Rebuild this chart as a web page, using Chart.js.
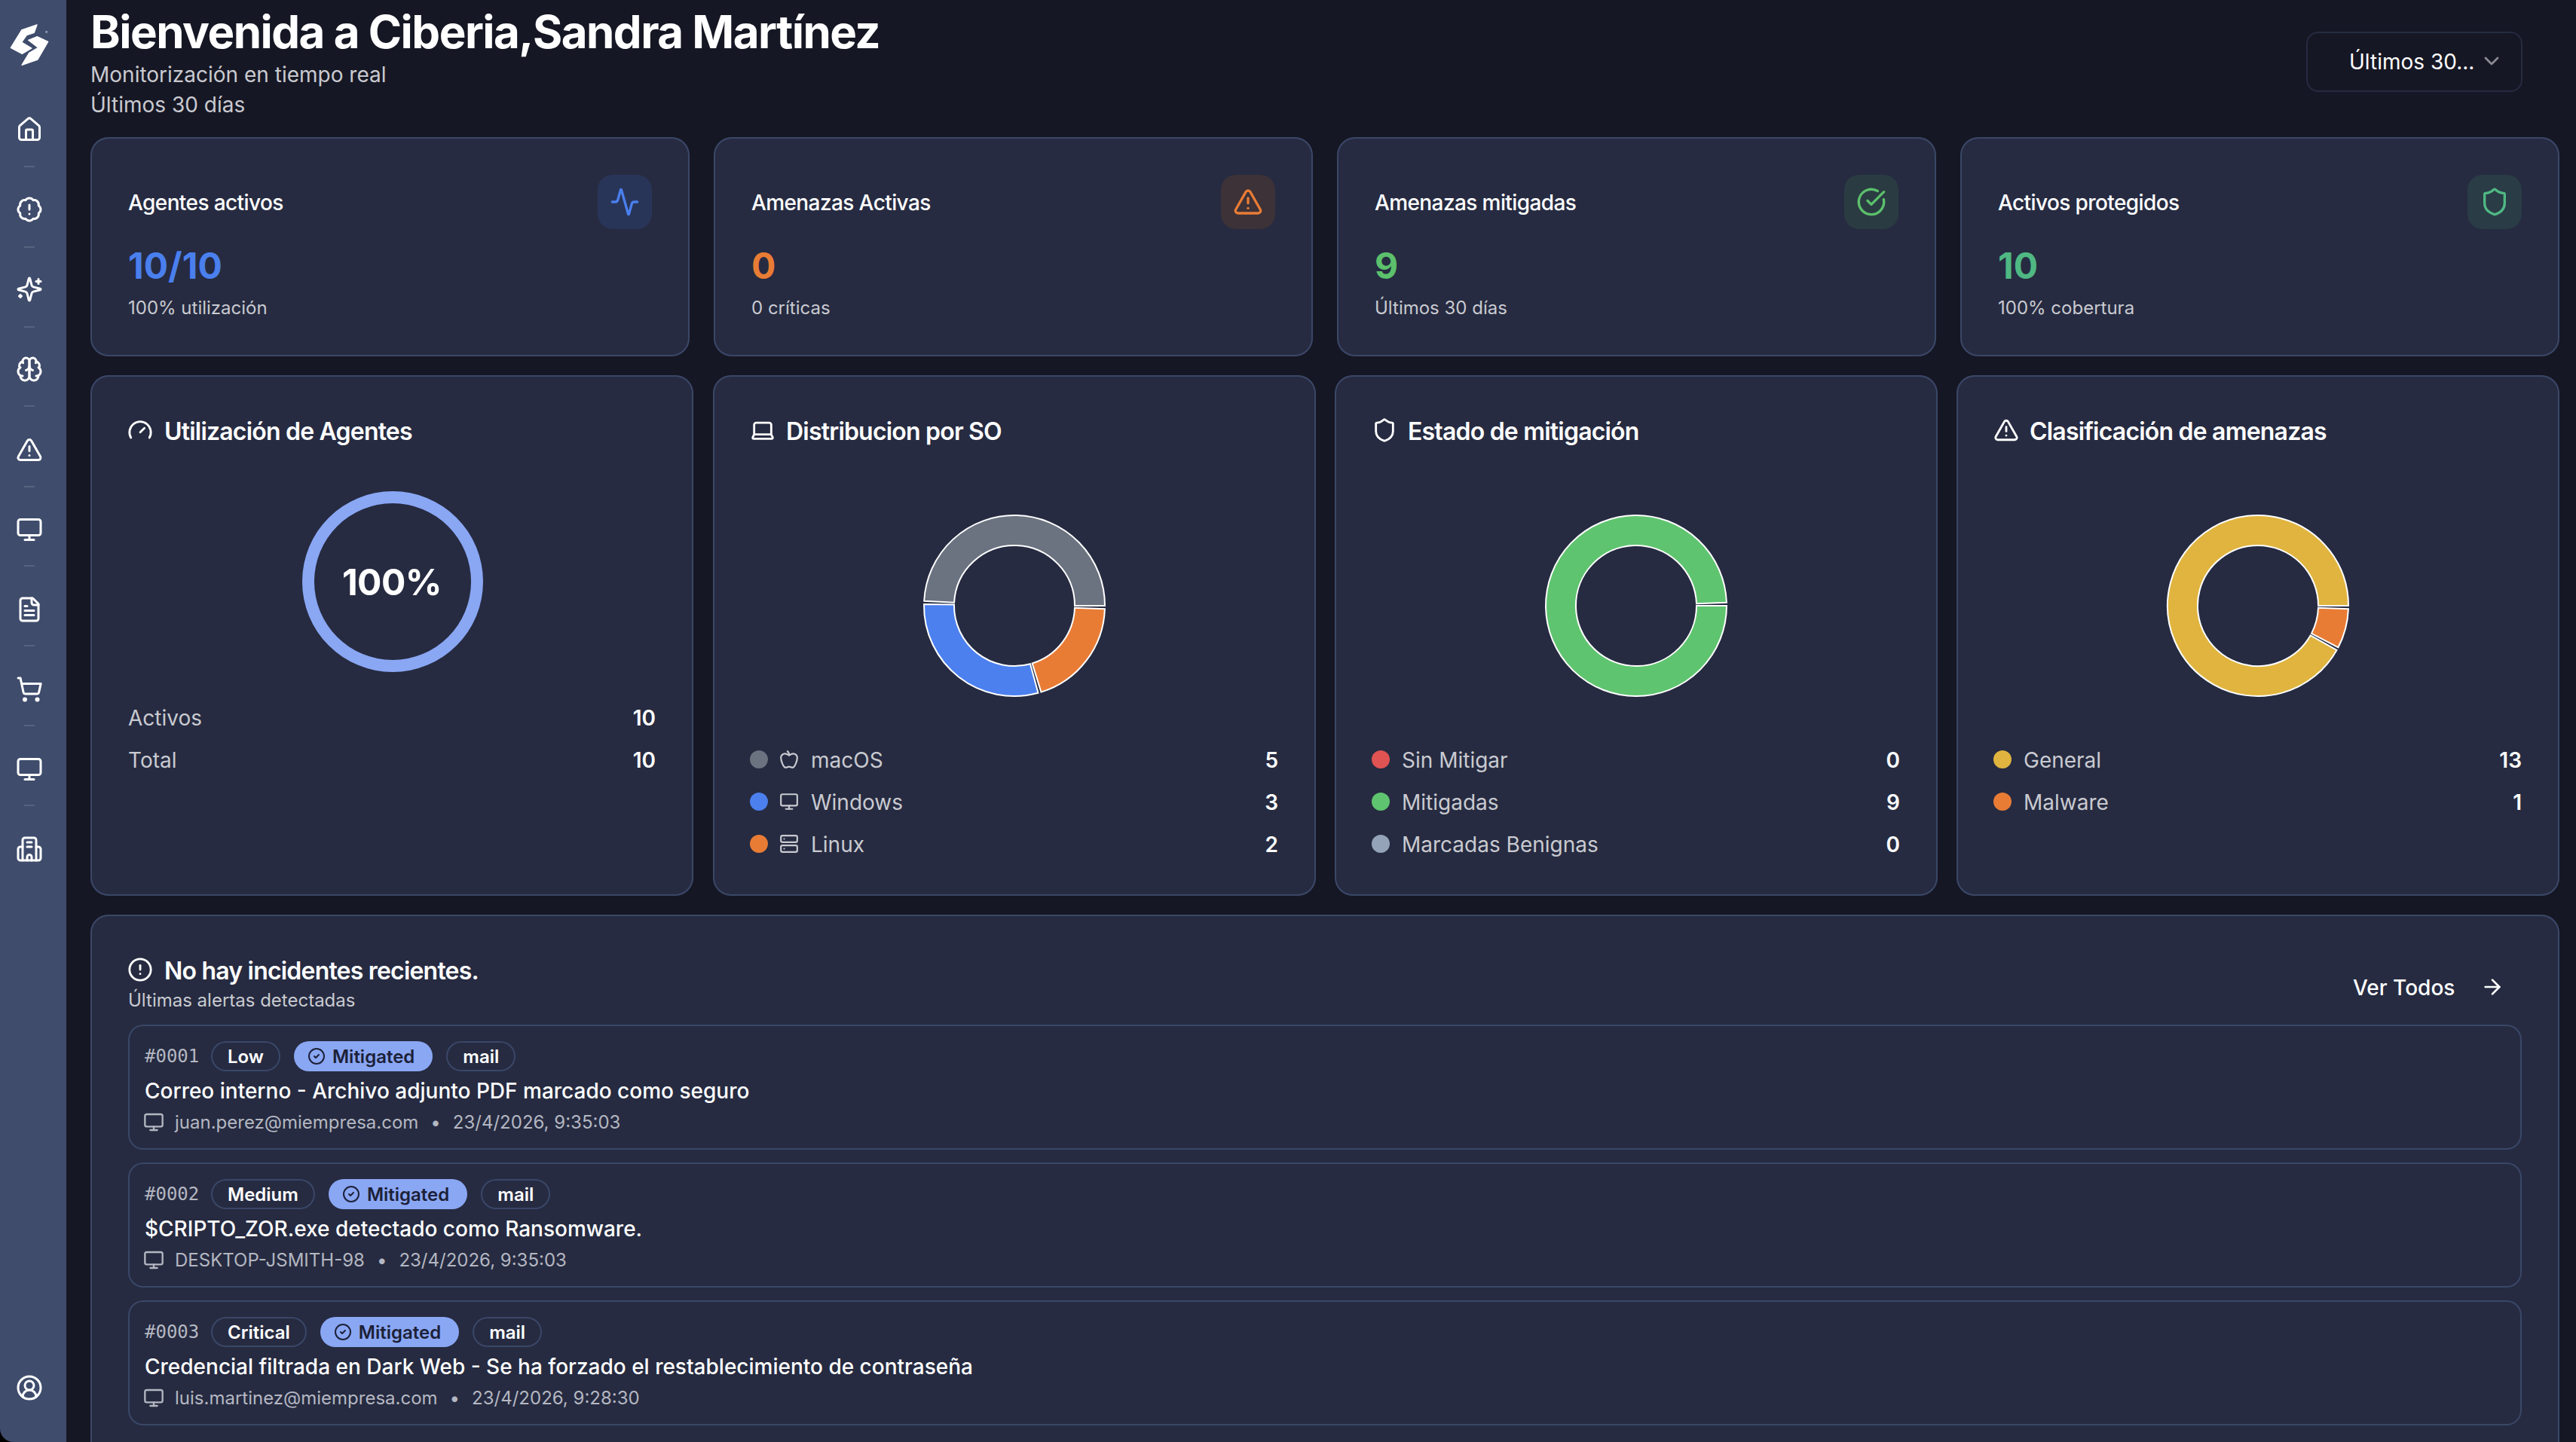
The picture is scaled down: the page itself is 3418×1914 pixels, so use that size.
<!DOCTYPE html>
<html lang="es">
<head>
<meta charset="utf-8">
<title>Ciberia</title>
<script src="https://cdn.jsdelivr.net/npm/chart.js@4/dist/chart.umd.min.js"></script>
<style>
* { box-sizing: border-box; margin: 0; padding: 0; }
html, body { width: 3418px; height: 1914px; overflow: hidden; background: #161724; color: #fff; font-family: Inter, "Noto Sans", sans-serif; }
.abs { position: absolute; white-space: nowrap; }
svg { display: block; fill: none; stroke-linecap: round; stroke-linejoin: round; }
#corner { position: absolute; left: 0; top: 1894px; width: 20px; height: 20px; background: #000; }
#sidebar { position: absolute; left: 0; top: 0; width: 88px; height: 1914px; background: #3f4c6c; border-bottom-left-radius: 18px; }
.sep { position: absolute; left: 32px; width: 14px; height: 2px; background: #57637f; }
.card { position: absolute; background: #262b41; border-radius: 24px; box-shadow: inset 0 0 0 2px #3a4767; }
.grey { color: #c9cad0; }
.mid { transform: translateY(-50%); line-height: 1.2; margin-top: 2px; }
.iconbox { position: absolute; top: 50px; width: 72px; height: 72px; border-radius: 20px; display: flex; align-items: center; justify-content: center; }
.cardtitle { font-size: 32px; font-weight: 600; letter-spacing: -0.8px; }
.legdot { position: absolute; left: 49px; width: 24px; height: 24px; border-radius: 50%; transform: translateY(-50%); }
canvas { position: absolute; }
.alert { position: absolute; left: 50px; width: 3176px; height: 166px; border-radius: 20px; box-shadow: inset 0 0 0 2px #3a4767; }
.pills { position: absolute; left: 110px; top: 22px; display: flex; gap: 18px; height: 40px; }
.pill { height: 40px; padding: 0 22px; border-radius: 20px; box-shadow: inset 0 0 0 2px #3a4767; display: flex; align-items: center; gap: 9px; font-size: 24px; font-weight: 600; }
.pill.on { background: #8aa7f4; color: #1c2138; box-shadow: none; padding: 0 24px 0 18px; }
.meta { position: absolute; left: 20px; top: 129px; display: flex; align-items: center; gap: 16px; font-size: 24px; color: #b4b7c1; transform: translateY(-50%); }
</style>
</head>
<body>
<div id="corner"></div>
<div id="sidebar"></div>
<div id="main"></div>
<script>
// datos del panel
const statTitles = ['Agentes activos', 'Amenazas Activas', 'Amenazas mitigadas', 'Activos protegidos'];
const statValues = ['10/10', '0', '9', '10'];
const statNotes = ['100% utilización', '0 críticas', 'Últimos 30 días', '100% cobertura'];
const statIcons = ['activity', 'triangle', 'checkbig', 'shield'];
const statColors = ['#4a7fee', '#e97c35', '#5cc06c', '#4fb883'];
const statTints = ['#293558', '#3c3238', '#2a3c42', '#2a3c46'];

const agentLabels = ['Activos', 'Total'];
const agentValues = [10, 10];

const osLabels = ['macOS', 'Windows', 'Linux'];
const osValues = [5, 3, 2];
const osIcons = ['apple', 'monitor', 'server'];
const osColors = ['#6b7280', '#4c80ef', '#e97c35'];

const mitigationLabels = ['Sin Mitigar', 'Mitigadas', 'Marcadas Benignas'];
const mitigationValues = [0, 9, 0];
const mitigationColors = ['#e05353', '#5fc46f', '#94a3b8'];

const threatLabels = ['General', 'Malware'];
const threatValues = [13, 1];
const threatColors = ['#e0b43f', '#e97c35'];

const alertIds = ['#0001', '#0002', '#0003'];
const alertSeverity = ['Low', 'Medium', 'Critical'];
const alertTitles = [
  'Correo interno - Archivo adjunto PDF marcado como seguro',
  '$CRIPTO_ZOR.exe detectado como Ransomware.',
  'Credencial filtrada en Dark Web - Se ha forzado el restablecimiento de contraseña'
];
const alertHosts = ['juan.perez@miempresa.com', 'DESKTOP-JSMITH-98', 'luis.martinez@miempresa.com'];
const alertDates = ['23/4/2026, 9:35:03', '23/4/2026, 9:35:03', '23/4/2026, 9:28:30'];

const icons = {
  house: '<path d="M15 21v-8a1 1 0 0 0-1-1h-4a1 1 0 0 0-1 1v8"/><path d="M3 10a2 2 0 0 1 .709-1.528l7-5.999a2 2 0 0 1 2.582 0l7 5.999A2 2 0 0 1 21 10v9a2 2 0 0 1-2 2H5a2 2 0 0 1-2-2z"/>',
  badge: '<path d="M3.85 8.62a4 4 0 0 1 4.78-4.77 4 4 0 0 1 6.74 0 4 4 0 0 1 4.78 4.78 4 4 0 0 1 0 6.74 4 4 0 0 1-4.77 4.78 4 4 0 0 1-6.75 0 4 4 0 0 1-4.78-4.77 4 4 0 0 1 0-6.76Z"/><path d="M12 8v4"/><path d="M12 16h.01"/>',
  sparkles: '<path d="M9.937 15.5A2 2 0 0 0 8.5 14.063l-6.135-1.582a.5.5 0 0 1 0-.962L8.5 9.936A2 2 0 0 0 9.937 8.5l1.582-6.135a.5.5 0 0 1 .963 0L14.063 8.5A2 2 0 0 0 15.5 9.937l6.135 1.581a.5.5 0 0 1 0 .964L15.5 14.063a2 2 0 0 0-1.437 1.437l-1.582 6.135a.5.5 0 0 1-.963 0z"/><path d="M20 3v4"/><path d="M22 5h-4"/><path d="M4 17v2"/><path d="M5 18H3"/>',
  brain: '<path d="M12 5a3 3 0 1 0-5.997.125 4 4 0 0 0-2.526 5.77 4 4 0 0 0 .556 6.588A4 4 0 1 0 12 18Z"/><path d="M12 5a3 3 0 1 1 5.997.125 4 4 0 0 1 2.526 5.77 4 4 0 0 1-.556 6.588A4 4 0 1 1 12 18Z"/><path d="M15 13a4.5 4.5 0 0 1-3-4 4.5 4.5 0 0 1-3 4"/><path d="M17.599 6.5a3 3 0 0 0 .399-1.375"/><path d="M6.003 5.125A3 3 0 0 0 6.401 6.5"/><path d="M3.477 10.896a4 4 0 0 1 .585-.396"/><path d="M19.938 10.5a4 4 0 0 1 .585.396"/><path d="M6 18a4 4 0 0 1-1.967-.516"/><path d="M19.967 17.484A4 4 0 0 1 18 18"/>',
  triangle: '<path d="m21.73 18-8-14a2 2 0 0 0-3.48 0l-8 14A2 2 0 0 0 4 21h16a2 2 0 0 0 1.73-3"/><path d="M12 9v4"/><path d="M12 17h.01"/>',
  monitor: '<rect width="20" height="14" x="2" y="3" rx="2"/><path d="M8 21h8"/><path d="M12 17v4"/>',
  file: '<path d="M15 2H6a2 2 0 0 0-2 2v16a2 2 0 0 0 2 2h12a2 2 0 0 0 2-2V7Z"/><path d="M14 2v4a2 2 0 0 0 2 2h4"/><path d="M10 9H8"/><path d="M16 13H8"/><path d="M16 17H8"/>',
  cart: '<circle cx="8" cy="21" r="1"/><circle cx="19" cy="21" r="1"/><path d="M2.05 2.05h2l2.66 12.42a2 2 0 0 0 2 1.58h9.78a2 2 0 0 0 1.95-1.57l1.65-7.43H5.12"/>',
  hospital: '<path d="M14 10h-4"/><path d="M14 6h-4"/><path d="M10 22v-3a2 2 0 0 1 4 0v3"/><path d="M18 10h2a2 2 0 0 1 2 2v8a2 2 0 0 1-2 2H4a2 2 0 0 1-2-2v-8a2 2 0 0 1 2-2h2"/><path d="M18 22V4a2 2 0 0 0-2-2H8a2 2 0 0 0-2 2v18"/>',
  user: '<path d="M18 20a6 6 0 0 0-12 0"/><circle cx="12" cy="10" r="4"/><circle cx="12" cy="12" r="10"/>',
  activity: '<path d="M22 12h-2.48a2 2 0 0 0-1.93 1.46l-2.35 8.36a.25.25 0 0 1-.48 0L9.24 2.18a.25.25 0 0 0-.48 0l-2.35 8.36A2 2 0 0 1 4.49 12H2"/>',
  checkbig: '<path d="M21.801 10A10 10 0 1 1 17 3.335"/><path d="m9 11 3 3L22 4"/>',
  check: '<circle cx="12" cy="12" r="10"/><path d="m9 12 2 2 4-4"/>',
  shield: '<path d="M20 13c0 5-3.5 7.5-7.66 8.95a1 1 0 0 1-.67-.01C7.5 20.5 4 18 4 13V6a1 1 0 0 1 1-1c2 0 4.5-1.2 6.24-2.72a1.17 1.17 0 0 1 1.52 0C14.51 3.81 17 5 19 5a1 1 0 0 1 1 1z"/>',
  gauge: '<path d="m12 14 4-4"/><path d="M3.34 19a10 10 0 1 1 17.32 0"/>',
  laptop: '<path d="M20 16V7a2 2 0 0 0-2-2H6a2 2 0 0 0-2 2v9m16 0H4m16 0 1.28 2.55a1 1 0 0 1-.9 1.45H3.62a1 1 0 0 1-.9-1.45L4 16"/>',
  apple: '<path d="M12 20.94c1.5 0 2.75 1.06 4 1.06 3 0 6-8 6-12.22A4.91 4.91 0 0 0 17 5c-2.22 0-4 1.44-5 2-1-.56-2.78-2-5-2a4.9 4.9 0 0 0-5 4.78C2 14 5 22 8 22c1.25 0 2.5-1.06 4-1.06Z"/><path d="M10 2c1 .5 2 2 2 5"/>',
  server: '<rect width="20" height="8" x="2" y="2" rx="2"/><rect width="20" height="8" x="2" y="14" rx="2"/><path d="M6 6h.01"/><path d="M6 18h.01"/>',
  alert: '<circle cx="12" cy="12" r="10"/><path d="M12 8v4"/><path d="M12 16h.01"/>',
  arrow: '<path d="M5 12h14"/><path d="m12 5 7 7-7 7"/>',
  chevron: '<path d="m6 9 6 6 6-6"/>'
};

function icon(name, size, color, extra) {
  return '<svg width="' + size + '" height="' + size + '" viewBox="0 0 24 24" stroke="' + color + '" stroke-width="2" style="' + (extra || '') + '">' + icons[name] + '</svg>';
}

function text(str, x, y, size, weight, cls, extra) {
  return '<div class="abs mid ' + (cls || '') + '" style="left:' + x + 'px;top:' + y + 'px;font-size:' + size + 'px;font-weight:' + weight + ';' + (extra || '') + '">' + str + '</div>';
}

// barra lateral
const navIcons = ['house', 'badge', 'sparkles', 'brain', 'triangle', 'monitor', 'file', 'cart', 'monitor', 'hospital'];
const navY = [172, 278, 384, 490, 597, 703, 809, 915, 1021, 1127];
const sepY = [220, 327, 433, 538, 645, 750, 856, 962, 1068];
let side = '<svg class="abs" style="left:0;top:20px" width="90" height="90" viewBox="0 0 270 270" fill="#fff" stroke="#fff" stroke-width="4">' +
  '<path fill="#fff" d="M147 39 86 60 43 130 88 154 126 132 86 108 106 80 136 70Z"/>' +
  '<path fill="#fff" d="M113 100 148 86 191 106 150 177 87 199 116 151 152 130Z"/>' +
  '<circle cx="185" cy="67" r="5" fill="#8b95ab" stroke="none"/></svg>';
navIcons.forEach((n, i) => {
  side += icon(n, 36, '#fff', 'position:absolute;left:21px;top:' + (navY[i] - 18) + 'px');
});
sepY.forEach(y => { side += '<div class="sep" style="top:' + y + 'px"></div>'; });
side += icon('user', 36, '#fff', 'position:absolute;left:21px;top:1824px');
document.getElementById('sidebar').innerHTML = side;

// cabecera y tarjetas
let html = '';
html += text('Bienvenida a Ciberia,Sandra Martínez', 120, 40, 60, 700, '', 'letter-spacing:-1.5px');
html += text('Monitorización en tiempo real', 120, 98, 28, 400, 'grey');
html += text('Últimos 30 días', 120, 138, 28, 400, 'grey');
html += '<div class="abs" style="left:3060px;top:42px;width:287px;height:80px;border-radius:16px;box-shadow:inset 0 0 0 2px #262b41"></div>';
html += text('Últimos 30...', 3117, 81, 28, 400, '');
html += icon('chevron', 32, '#8b8b92', 'position:absolute;left:3290px;top:65px');

const statX = [120, 947, 1774, 2601];
statTitles.forEach((t, i) => {
  html += '<div class="card" style="left:' + statX[i] + 'px;top:182px;width:795px;height:291px">' +
    text(t, 50, 86, 28, 500, '', 'letter-spacing:-0.6px') +
    text(statValues[i], 50, 169, 48, 700, '', 'color:' + statColors[i]) +
    text(statNotes[i], 50, 225, 24, 400, 'grey') +
    '<div class="iconbox" style="left:673px;background:' + statTints[i] + '">' + icon(statIcons[i], 40, statColors[i]) + '</div>' +
    '</div>';
});

function legendRows(labels, values, colors, rowIcons) {
  const rowY = [510, 566, 622];
  return labels.map((l, i) => {
    const labelX = rowIcons ? 130 : 89;
    return '<div class="legdot" style="top:' + rowY[i] + 'px;background:' + colors[i] + '"></div>' +
      (rowIcons ? icon(rowIcons[i], 26, '#c9cad0', 'position:absolute;left:88px;top:' + (rowY[i] - 13) + 'px') : '') +
      text(l, labelX, rowY[i], 28, 400, 'grey') +
      text(values[i], 750, rowY[i], 28, 600, '', 'transform:translate(-100%,-50%)');
  }).join('');
}

const chartX = [120, 946, 1771, 2596];
const chartTitles = ['Utilización de Agentes', 'Distribucion por SO', 'Estado de mitigación', 'Clasificación de amenazas'];
const chartIcons = ['gauge', 'laptop', 'shield', 'triangle'];
const chartRows = [
  '',
  legendRows(osLabels, osValues, osColors, osIcons),
  legendRows(mitigationLabels, mitigationValues, mitigationColors),
  legendRows(threatLabels, threatValues, threatColors)
];
chartTitles.forEach((t, i) => {
  html += '<div class="card" style="left:' + chartX[i] + 'px;top:498px;width:800px;height:691px">' +
    icon(chartIcons[i], 34, '#fff', 'position:absolute;left:49px;top:56px') +
    text(t, i === 0 ? 98 : 97, 73, 32, 600, 'cardtitle') +
    '<canvas id="ring' + i + '" width="250" height="250" style="left:' + (i === 0 ? 276 : 275) + 'px;top:' + (i === 0 ? 149 : 181) + 'px"></canvas>' +
    chartRows[i] +
    '</div>';
});

// tarjeta de alertas
let rows = '';
alertIds.forEach((id, i) => {
  rows += '<div class="alert" style="top:' + (146 + i * 183) + 'px">' +
    text(id, 22, 40, 24, 400, '', 'font-family:\'DejaVu Sans Mono\',monospace;color:#b4b7c1') +
    '<div class="pills">' +
      '<div class="pill">' + alertSeverity[i] + '</div>' +
      '<div class="pill on">' + icon('check', 24, '#1c2138') + 'Mitigated</div>' +
      '<div class="pill">mail</div>' +
    '</div>' +
    text(alertTitles[i], 22, 87, 28, 500) +
    '<div class="meta">' + icon('monitor', 28, '#b4b7c1') + '<span style="margin-left:-2px">' + alertHosts[i] + '</span><span>•</span><span>' + alertDates[i] + '</span></div>' +
    '</div>';
});
html += '<div class="card" style="left:120px;top:1214px;width:3276px;height:800px">' +
  icon('alert', 34, '#fff', 'position:absolute;left:49px;top:56px') +
  text('No hay incidentes recientes.', 98, 73, 32, 600, 'cardtitle') +
  text('Últimas alertas detectadas', 50, 112, 24, 400, 'grey') +
  text('Ver Todos', 3002, 96, 28, 500) +
  icon('arrow', 32, '#fff', 'position:absolute;left:3171px;top:80px') +
  rows + '</div>';
document.getElementById('main').innerHTML = html;

// los anillos van en sentido antihorario desde las 3, con 2 grados entre porciones
const padAngle = 2;
function ringDataset(values, colors) {
  const total = values.reduce((a, b) => a + b, 0);
  const nonZero = values.filter(v => v !== 0).length;
  const perDegree = total / (360 - padAngle * nonZero);
  const gap = padAngle * perDegree;
  const data = [], bg = [], bw = [];
  let used = 0;
  values.forEach((v, i) => {
    if (i > 0 && v !== 0) { data.push(gap); bg.push('rgba(0,0,0,0)'); bw.push(0); used += gap; }
    data.push(v); bg.push(colors[i]); bw.push(2); used += v;
  });
  const rest = 360 * perDegree - used;
  if (rest > 1e-9) { data.push(rest); bg.push('rgba(0,0,0,0)'); bw.push(0); }
  return { data: data.reverse(), backgroundColor: bg.reverse(), borderWidth: bw.reverse(), borderColor: '#ffffff', borderJoinStyle: 'miter' };
}

function drawRing(id, dataset, radius, cutout) {
  new Chart(document.getElementById(id), {
    type: 'doughnut',
    data: { datasets: [dataset] },
    options: {
      responsive: false,
      animation: false,
      rotation: 90,
      radius: radius,
      cutout: cutout,
      layout: { padding: 0 },
      plugins: { legend: { display: false }, tooltip: { enabled: false } }
    }
  });
}

// anillo de utilización: activos sobre el total
drawRing('ring0', {
  data: [agentValues[0], agentValues[1] - agentValues[0]],
  backgroundColor: ['#8aa7f4', '#3a4767'],
  borderWidth: 0
}, 120, '86.7%');
drawRing('ring1', ringDataset(osValues, osColors), 120, '66.7%');
drawRing('ring2', ringDataset(mitigationValues, mitigationColors), 120, '66.7%');
drawRing('ring3', ringDataset(threatValues, threatColors), 120, '66.7%');

// textos del anillo y filas de la primera tarjeta
const firstCard = document.getElementById('ring0').parentNode;
firstCard.insertAdjacentHTML('beforeend',
  '<div class="abs mid" style="left:400px;top:273px;font-size:48px;font-weight:700;letter-spacing:-0.5px;transform:translate(-50%,-50%)">' +
    Math.round(agentValues[0] / agentValues[1] * 100) + '%</div>' +
  agentLabels.map((l, i) => {
    const y = 454 + i * 56;
    return text(l, 50, y, 28, 400, 'grey') + text(agentValues[i], 750, y, 28, 600, '', 'transform:translate(-100%,-50%)');
  }).join(''));
</script>
</body>
</html>
